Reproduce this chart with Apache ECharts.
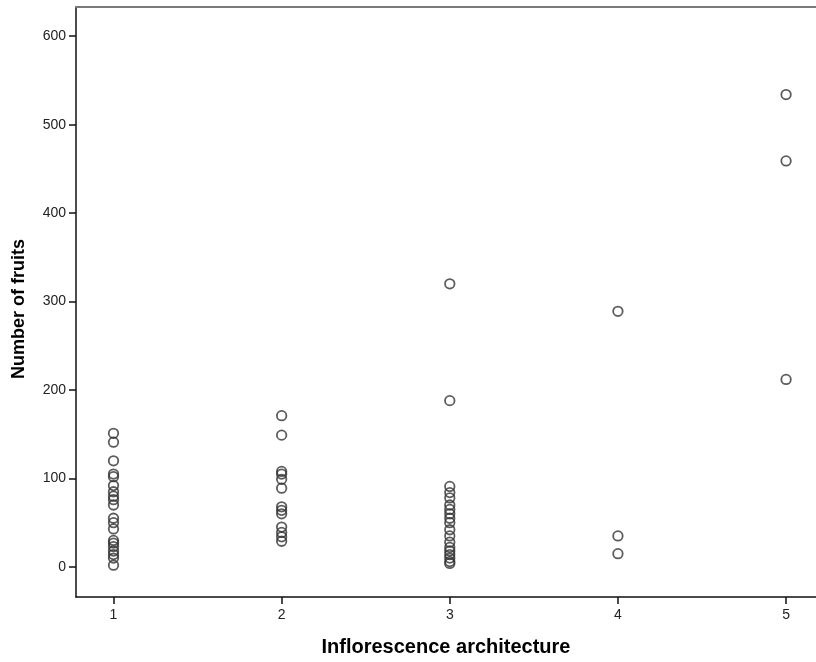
<!DOCTYPE html>
<html>
<head>
<meta charset="utf-8">
<script src="https://cdn.jsdelivr.net/npm/echarts@6/dist/echarts.min.js"></script>
<style>
  html, body { margin: 0; padding: 0; background: #fff; }
  #chart { width: 816px; height: 662px; }
</style>
</head>
<body>
<div id="chart"></div>
<script>
// Number of fruits per plant, grouped by inflorescence architecture class
const architectureClasses = [1, 2, 3, 4, 5];
const fruitsClass1 = [151, 141, 120, 105, 102, 92, 85, 80, 76, 70, 55, 50, 43, 30, 27, 23, 18, 14, 10, 2];
const fruitsClass2 = [171, 149, 108, 105, 99, 89, 68, 64, 60, 45, 39, 34, 29];
const fruitsClass3 = [320, 188, 91, 84, 78, 70, 65, 60, 55, 50, 42, 35, 28, 22, 18, 14, 10, 6, 4];
const fruitsClass4 = [289, 35, 15];
const fruitsClass5 = [534, 459, 212];
const yTicks = [0, 100, 200, 300, 400, 500, 600];

const groups = [fruitsClass1, fruitsClass2, fruitsClass3, fruitsClass4, fruitsClass5];
const points = [];
groups.forEach((vals, i) => {
  vals.forEach(v => points.push([architectureClasses[i], v]));
});

const labelFont = { fontFamily: 'Liberation Sans, Arial, sans-serif', fontSize: 14, color: '#222' };
const titleFont = { fontFamily: 'Liberation Sans, Arial, sans-serif', fontWeight: 'bold', color: '#000' };

const chart = echarts.init(document.getElementById('chart'), null, { renderer: 'canvas' });
chart.setOption({
  animation: false,
  backgroundColor: '#fff',
  grid: { left: 76, top: 7, right: 0, bottom: 65 },
  xAxis: [{
    type: 'value',
    min: 0.777, max: 5.178,
    name: 'Inflorescence architecture',
    nameLocation: 'middle',
    nameGap: 40,
    nameTextStyle: { ...titleFont, fontSize: 20 },
    splitLine: { show: false },
    axisLine: { show: true, onZero: false, lineStyle: { color: '#111', width: 1.5 } },
    axisTick: { show: true, customValues: architectureClasses, length: 7, lineStyle: { color: '#111', width: 1.5 } },
    axisLabel: { customValues: architectureClasses, margin: 11, ...labelFont }
  }, {
    // top frame line
    type: 'value',
    position: 'top',
    min: 0.777, max: 5.178,
    splitLine: { show: false },
    axisLine: { show: true, onZero: false, lineStyle: { color: '#7a7a7a', width: 2 } },
    axisTick: { show: false },
    axisLabel: { show: false }
  }],
  yAxis: {
    type: 'value',
    min: -34, max: 633,
    name: 'Number of fruits',
    nameLocation: 'middle',
    nameGap: 48,
    nameTextStyle: { ...titleFont, fontSize: 18, padding: [0, 0, 0, -14] },
    splitLine: { show: false },
    axisLine: { show: true, onZero: false, lineStyle: { color: '#111', width: 1.5 } },
    axisTick: { show: true, customValues: yTicks, length: 7, lineStyle: { color: '#111', width: 1.5 } },
    axisLabel: { customValues: yTicks, margin: 10, ...labelFont }
  },
  series: [{
    type: 'scatter',
    xAxisIndex: 0,
    data: points,
    symbol: 'circle',
    symbolSize: 9.5,
    itemStyle: { color: 'transparent', borderColor: '#333', borderWidth: 1.8 }
  }]
});
</script>
</body>
</html>
